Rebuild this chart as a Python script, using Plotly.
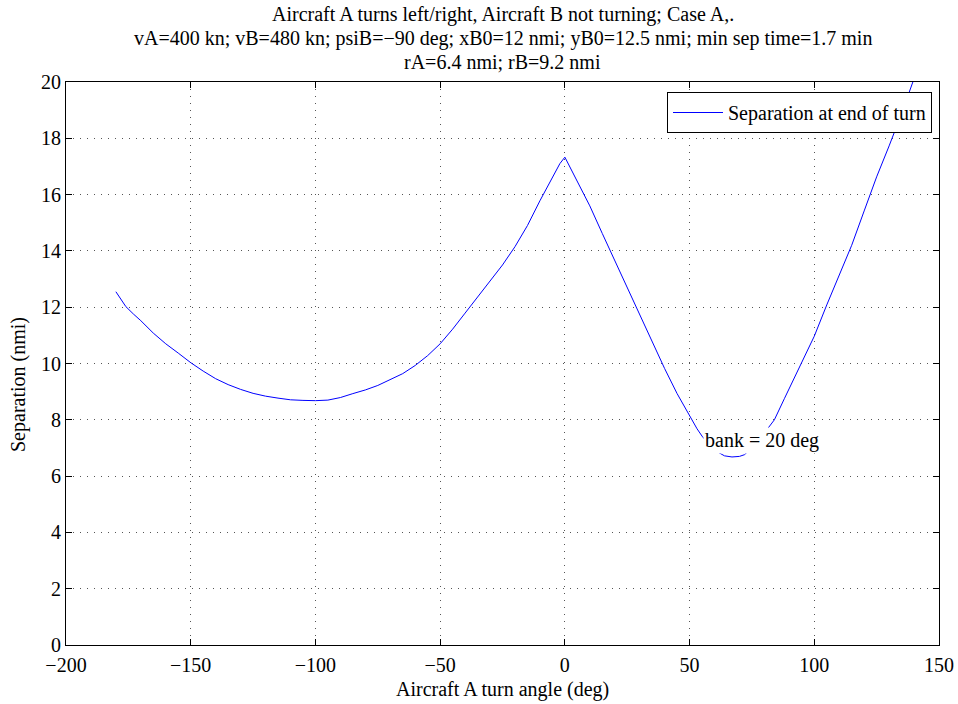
import plotly.graph_objects as go

turn_angle = [-180, -178, -176, -173, -170, -165, -160, -155, -150, -145, -140, -135, -130,
              -125, -120, -115, -110, -105, -100, -95, -90, -85, -80, -75, -70, -65, -60,
              -55, -50, -45, -40, -35, -30, -25, -20, -15, -10, -7, -4, -2, 0, 2, 5, 7, 10,
              15, 20, 25, 30, 35, 40, 45, 50, 53, 55, 58, 61, 64, 67, 70, 72, 75, 78, 81,
              84, 88, 92, 96, 100, 105, 110, 115, 120, 125, 130, 135, 140]
separation = [12.55, 12.28, 12.02, 11.76, 11.52, 11.08, 10.70, 10.37, 10.03, 9.73, 9.46, 9.25, 9.08,
              8.94, 8.84, 8.77, 8.71, 8.69, 8.68, 8.70, 8.79, 8.93, 9.06, 9.22, 9.42, 9.64, 9.93,
              10.28, 10.70, 11.22, 11.79, 12.36, 12.92, 13.50, 14.15, 14.90, 15.78, 16.28, 16.82, 17.10, 17.33,
              16.98, 16.50, 16.15, 15.60, 14.62, 13.66, 12.70, 11.74, 10.78, 9.82, 8.93, 8.12, 7.68, 7.42,
              7.10, 6.87, 6.72, 6.68, 6.70, 6.76, 7.00, 7.30, 7.63,
              8.00, 8.75, 9.48, 10.19, 10.97, 12.08, 13.14, 14.20, 15.42, 16.63, 17.73, 18.88, 20.12]

x_ticks = [-200, -150, -100, -50, 0, 50, 100, 150]
y_ticks = [0, 2, 4, 6, 8, 10, 12, 14, 16, 18, 20]

title_lines = ["Aircraft A turns left/right, Aircraft B not turning; Case A,.",
               "vA=400 kn; vB=480 kn; psiB=\u221290 deg; xB0=12 nmi; yB0=12.5 nmi; min sep time=1.7 min",
               "rA=6.4 nmi; rB=9.2 nmi"]

FONT = "Liberation Serif"
FS = 20
W, H = 958, 704
L, R, T, B = 66, 19, 82, 59
PW, PH = W - L - R, H - T - B


def py2paper(py):
    return (H - B - py) / PH


fig = go.Figure()
fig.add_trace(go.Scatter(x=turn_angle, y=separation, mode="lines",
                         line=dict(color="#0000ff", width=1),
                         name="Separation at end of turn"))

fig.add_annotation(x=55.4, y=7.25, xref="x", yref="y", text="bank = 20 deg",
                   showarrow=False, xanchor="left", yanchor="middle",
                   bgcolor="white", borderpad=1,
                   font=dict(family=FONT, size=FS, color="black"))

for line, py in zip(title_lines, [15, 39, 62]):
    fig.add_annotation(x=0.5, y=py2paper(py), xref="paper", yref="paper", text=line,
                       showarrow=False, xanchor="center", yanchor="middle",
                       font=dict(family=FONT, size=FS, color="black"))

fig.add_annotation(x=0.5, y=py2paper(689), xref="paper", yref="paper",
                   text="Aircraft A turn angle (deg)", showarrow=False,
                   xanchor="center", yanchor="middle",
                   font=dict(family=FONT, size=FS, color="black"))
fig.add_annotation(x=(18 - L) / PW, y=py2paper(385), xref="paper", yref="paper",
                   text="Separation (nmi)", showarrow=False, textangle=-90,
                   xanchor="center", yanchor="middle",
                   font=dict(family=FONT, size=FS, color="black"))

axis_common = dict(showline=True, linecolor="black", linewidth=1, mirror="ticks",
                   ticks="inside", ticklen=6, tickcolor="black", automargin=False,
                   showgrid=True, gridcolor="#555555", gridwidth=1, griddash="1px,6px",
                   zeroline=False, tickfont=dict(family=FONT, size=FS, color="black"))

fig.update_xaxes(range=[-200, 150], tickvals=x_ticks, ticklabelstandoff=2, **axis_common)
fig.update_yaxes(range=[0, 20], tickvals=y_ticks, **axis_common)

fig.update_layout(
    width=W, height=H,
    margin=dict(l=L, r=R, t=T, b=B, autoexpand=False),
    paper_bgcolor="white", plot_bgcolor="white",
    showlegend=True,
    legend=dict(x=(932 - L) / PW, y=py2paper(92), xanchor="right", yanchor="top",
                bgcolor="white", bordercolor="black", borderwidth=1,
                itemwidth=50,
                font=dict(family=FONT, size=FS, color="black")),
)

fig.write_html("out.html")
